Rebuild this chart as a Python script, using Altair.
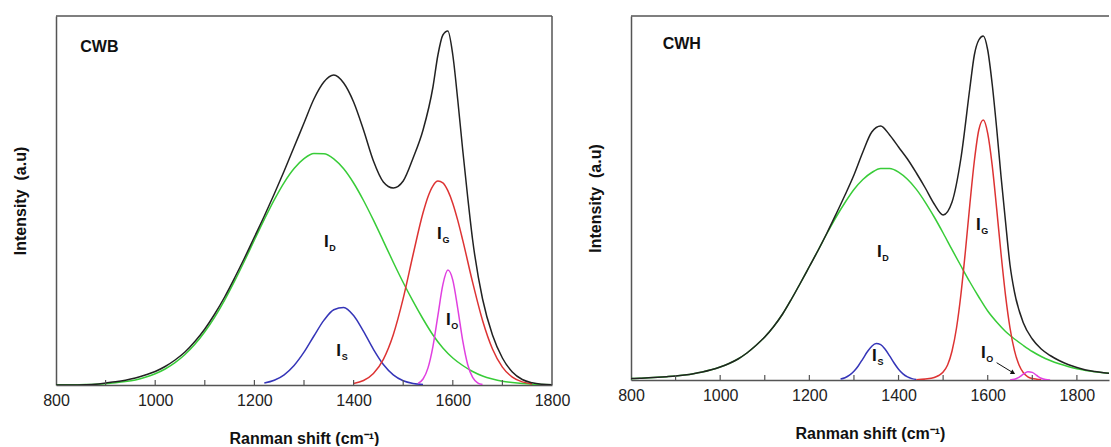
import altair as alt
import pandas as pd

FONT = "Liberation Sans"

# ---------------- CWB (left panel) ----------------
cwb_black_x = [800, 820, 840, 860, 880, 900, 920, 940, 960, 980, 1000, 1020, 1040, 1060, 1080,
               1100, 1120, 1140, 1160, 1180, 1200, 1220, 1240, 1260, 1280, 1300, 1320, 1340, 1360,
               1380, 1400, 1420, 1440, 1460, 1480, 1500, 1520, 1540, 1560, 1570, 1580, 1590, 1600,
               1610, 1620, 1630, 1640, 1660, 1680, 1700, 1720, 1740, 1760, 1780, 1800]
cwb_black_y = [0, 0, 0.1, 0.3, 0.8, 2.0, 3.2, 4.8, 7.0, 10.0, 13.5, 18.5, 25, 33, 43.5,
               56, 71, 88, 107, 127, 148, 169, 191, 214, 238, 262, 286, 303, 310,
               302, 283, 255, 224, 203, 197, 204, 227, 255, 298, 330, 350, 354, 330,
               285, 235, 188, 145, 86, 50, 27, 13, 5.5, 2.2, 0.8, 0.3]

cwb_green_x = [800, 820, 840, 860, 880, 900, 920, 940, 960, 980, 1000, 1020, 1040, 1060, 1080,
               1100, 1120, 1140, 1160, 1180, 1200, 1220, 1240, 1260, 1280, 1300, 1320, 1340, 1360,
               1380, 1400, 1420, 1440, 1460, 1480, 1500, 1520, 1540, 1560, 1580, 1600, 1620, 1640,
               1660, 1680, 1700, 1720, 1740, 1760, 1780, 1800]
cwb_green_y = [0.1, 0.2, 0.3, 0.5, 0.8, 1.3, 2.2, 3.4, 5.1, 7.7, 11.2, 16, 22.3, 30.5, 40.7,
               53.2, 67.9, 84.9, 103.8, 124, 145, 165.6, 185.1, 202.4, 216.4, 226.3, 231.4, 231.3, 226.2,
               216.2, 202, 184.5, 164.8, 143.9, 122.8, 102.5, 83.6, 66, 50, 37, 27, 19.5, 13.5,
               9, 6, 3.8, 2.4, 1.4, 0.8, 0.4, 0.2]

cwb_blue_x = [1220, 1240, 1260, 1280, 1300, 1320, 1340, 1360, 1380, 1400, 1420, 1440, 1460,
              1480, 1500, 1520, 1540]
cwb_blue_y = [1.9, 4.7, 10.2, 19.5, 32.8, 49, 64.6, 75.3, 77.6, 69.5, 53.6, 35.7, 20.5,
              10.2, 4.3, 1.6, 0.5]

cwb_red_x = [1400, 1420, 1440, 1460, 1480, 1500, 1520, 1540, 1550, 1560, 1570, 1580, 1590,
             1600, 1610, 1620, 1640, 1660, 1680, 1700, 1720, 1740, 1760]
cwb_red_y = [1.5, 4.5, 11.5, 25.7, 50.3, 86.6, 130.5, 172.2, 188.3, 199.2, 203.9, 202.2, 194.4,
             181.6, 164.6, 144.9, 102.6, 64.5, 36, 17.9, 7.9, 3.1, 1.0]

cwb_mag_x = [1530, 1540, 1550, 1560, 1570, 1580, 1590, 1600, 1610, 1620, 1630, 1640, 1650, 1660]
cwb_mag_y = [1.7, 6, 17.1, 38.7, 69.7, 100.3, 114.9, 104.9, 76.4, 44.3, 20.5, 7.6, 2.2, 0.5]

cwb_labels_x = [1345, 1573, 1591, 1370]
cwb_labels_y = [143, 151, 65, 34]
cwb_labels_sub = ["D", "G", "O", "S"]

# ---------------- CWH (right panel) ----------------
cwh_black_x = [800, 820, 840, 860, 880, 900, 920, 940, 960, 980, 1000, 1020, 1040, 1060, 1080,
               1100, 1120, 1140, 1160, 1180, 1200, 1220, 1240, 1260, 1280, 1300, 1320, 1340, 1360,
               1380, 1400, 1420, 1440, 1460, 1480, 1500, 1520, 1540, 1560, 1570, 1580, 1590, 1600,
               1610, 1620, 1630, 1640, 1650, 1660, 1680, 1700, 1720, 1740, 1760, 1780, 1800, 1820,
               1840, 1860, 1880]
cwh_black_y = [1.5, 1.8, 2.2, 2.7, 3.3, 4.0, 5.0, 6.3, 8.0, 10.2, 13, 16.5, 21, 27, 34.5,
               43, 53.5, 66, 81, 97, 113.5, 130, 147.5, 166, 185, 205, 228, 248, 254,
               245, 233, 221, 207, 192, 176, 165, 178, 222, 292, 325, 340, 344, 330,
               296, 252, 203, 158, 115, 88, 57, 41, 31, 24.5, 19.5, 15.5, 12.5, 10,
               8.5, 7.3, 6.3]

cwh_green_x = [800, 820, 840, 860, 880, 900, 920, 940, 960, 980, 1000, 1020, 1040, 1060, 1080,
               1100, 1120, 1140, 1160, 1180, 1200, 1220, 1240, 1260, 1280, 1300, 1320, 1340, 1360,
               1380, 1400, 1420, 1440, 1460, 1480, 1500, 1520, 1540, 1560, 1580, 1600, 1620, 1640,
               1660, 1680, 1700, 1720, 1740, 1760, 1780, 1800, 1820, 1840, 1860, 1880]
cwh_green_y = [1.5, 1.8, 2.2, 2.7, 3.3, 4.0, 5.0, 6.3, 8.0, 10.2, 13, 16.5, 21, 27, 34.5,
               43, 53.5, 66, 81, 97, 113.5, 130, 147, 163, 177.5, 190.5, 200.5, 207.5, 211.5,
               211.5, 207.9, 200.7, 190.6, 177.7, 163, 147, 130.3, 114, 98, 83, 69, 58, 48.5,
               41, 34.5, 28.5, 23.5, 19.5, 16.2, 13.5, 11.3, 9.6, 8.3, 7.2, 6.3]

cwh_blue_x = [1270, 1280, 1290, 1300, 1310, 1320, 1330, 1340, 1350, 1360, 1370, 1380, 1390,
              1400, 1410, 1420, 1430, 1440]
cwh_blue_y = [1.0, 2.3, 4.8, 8.7, 14.3, 21.2, 28.2, 33.8, 36.4, 35.3, 30.7, 24.1, 17,
              10.8, 6.1, 3.1, 1.4, 0.6]

cwh_red_x = [1440, 1460, 1480, 1490, 1500, 1510, 1520, 1530, 1540, 1550, 1560, 1570, 1580,
             1590, 1600, 1610, 1620, 1630, 1640, 1650, 1660, 1670, 1680, 1690, 1700, 1710, 1720]
cwh_red_y = [0.3, 1.0, 2.5, 4.5, 8, 15, 29, 52, 86, 129, 176, 219, 250,
             260, 246.7, 214.9, 171.6, 125.7, 84.4, 52, 29.4, 15.2, 7.2, 3.2, 1.5, 0.8, 0.4]

cwh_mag_x = [1650, 1660, 1670, 1680, 1690, 1700, 1710, 1720, 1730, 1740]
cwh_mag_y = [0.1, 0.8, 2.6, 5.8, 8.3, 7.6, 4.5, 1.7, 0.4, 0.1]

cwh_labels_x = [1357, 1579, 1590, 1346]
cwh_labels_y = [128, 155, 27, 24]
cwh_labels_sub = ["D", "G", "O", "S"]

cwh_arrow_x = [1620, 1657]
cwh_arrow_y = [17.3, 7.2]

x_label_values = [800, 1000, 1200, 1400, 1600, 1800]
cwb_minor_ticks = [900, 1000, 1100, 1200, 1300, 1400, 1500, 1600, 1700]
cwh_minor_ticks = [900, 1000, 1100, 1200, 1300, 1400, 1500, 1600, 1700, 1800]

COLORS = {"black": "#222222", "green": "#38cc38", "red": "#dd3333",
          "blue": "#3535b8", "magenta": "#e040e0"}
FRAME = "#555555"


def panel(name, name_xy, curves, labels, minor_ticks, W, H, xmax, ymax, right_border, arrow=None):
    xscale = alt.Scale(domain=[800, xmax], nice=False, zero=False)
    yscale = alt.Scale(domain=[0, ymax], nice=False)
    xaxis = alt.Axis(values=x_label_values, format="d", ticks=False, grid=False,
                     labelFont=FONT, labelFontSize=16, labelColor="#222222", labelPadding=7,
                     labelFlush=False, domainColor=FRAME, domainWidth=1.5,
                     title="Ranman shift (cm\u207b\u00b9)", titleFont=FONT, titleFontSize=16,
                     titleFontWeight="bold", titleColor="#111111", titlePadding=22)
    yaxis = alt.Axis(labels=False, ticks=False, grid=False, domainColor=FRAME, domainWidth=1.5,
                     title="Intensity\u00a0 (a.u)", titleFont=FONT, titleFontSize=16,
                     titleFontWeight="bold", titleColor="#111111", titlePadding=28)
    X = lambda f: alt.X(f, type="quantitative", scale=xscale, axis=xaxis)
    Y = lambda f: alt.Y(f, type="quantitative", scale=yscale, axis=yaxis)

    layers = []
    for key, xs, ys in curves:
        df = pd.DataFrame({"x": xs, "y": ys})
        layers.append(alt.Chart(df).mark_line(color=COLORS[key], strokeWidth=1.5,
                                              interpolate="monotone", clip=True)
                      .encode(x=X("x"), y=Y("y")))

    tdf = pd.DataFrame({"t": minor_ticks})
    layers.append(alt.Chart(tdf).mark_rule(color=FRAME, strokeWidth=1.2)
                  .encode(x=X("t"), y=alt.value(H), y2=alt.value(H - 5)))

    one = pd.DataFrame({"a": [0]})
    layers.append(alt.Chart(one).mark_rule(color=FRAME, strokeWidth=1.5)
                  .encode(x=alt.value(0), x2=alt.value(W), y=alt.value(0)))
    if right_border:
        layers.append(alt.Chart(one).mark_rule(color=FRAME, strokeWidth=1.5)
                      .encode(x=alt.value(W), y=alt.value(0), y2=alt.value(H)))

    ndf = pd.DataFrame({"x": [name_xy[0]], "y": [name_xy[1]], "t": [name]})
    layers.append(alt.Chart(ndf).mark_text(font=FONT, fontSize=16, fontWeight="bold",
                                           align="left", baseline="middle", color="#111111")
                  .encode(x=X("x"), y=Y("y"), text="t:N"))

    lx, ly, ls = labels
    ldf = pd.DataFrame({"x": lx, "y": ly, "main": ["I"] * len(lx), "sub": ls})
    layers.append(alt.Chart(ldf).mark_text(font=FONT, fontSize=17, fontWeight="bold",
                                           align="center", baseline="middle", color="#111111")
                  .encode(x=X("x"), y=Y("y"), text="main:N"))
    layers.append(alt.Chart(ldf).mark_text(font=FONT, fontSize=9, fontWeight="bold",
                                           align="left", baseline="middle", color="#111111",
                                           dx=3, dy=6)
                  .encode(x=X("x"), y=Y("y"), text="sub:N"))

    if arrow is not None:
        ax, ay = arrow
        adf = pd.DataFrame({"x": ax, "y": ay})
        layers.append(alt.Chart(adf).mark_line(color="#111111", strokeWidth=1)
                      .encode(x=X("x"), y=Y("y")))
        hdf = pd.DataFrame({"x": [ax[-1]], "y": [ay[-1]]})
        layers.append(alt.Chart(hdf).mark_point(shape="triangle-right", filled=True, size=28,
                                                angle=28, color="#111111", opacity=1)
                      .encode(x=X("x"), y=Y("y")))

    return alt.layer(*layers).properties(width=W, height=H)


left = panel("CWB", (849, 338),
             [("green", cwb_green_x, cwb_green_y), ("blue", cwb_blue_x, cwb_blue_y),
              ("red", cwb_red_x, cwb_red_y), ("magenta", cwb_mag_x, cwb_mag_y),
              ("black", cwb_black_x, cwb_black_y)],
             (cwb_labels_x, cwb_labels_y, cwb_labels_sub), cwb_minor_ticks,
             W=496, H=369, xmax=1800, ymax=369, right_border=True)

right = panel("CWH", (871, 336),
              [("green", cwh_green_x, cwh_green_y), ("blue", cwh_blue_x, cwh_blue_y),
               ("red", cwh_red_x, cwh_red_y), ("magenta", cwh_mag_x, cwh_mag_y),
               ("black", cwh_black_x, cwh_black_y)],
              (cwh_labels_x, cwh_labels_y, cwh_labels_sub), cwh_minor_ticks,
              W=478, H=364, xmax=1872, ymax=364, right_border=False,
              arrow=(cwh_arrow_x, cwh_arrow_y))

chart = (alt.hconcat(left, right, spacing=79, bounds="flush")
         .properties(padding={"left": 12, "top": 15, "right": 0, "bottom": 0},
                     background="white")
         .configure_view(strokeWidth=0))

chart.save("out.html", embed_options={"renderer": "svg", "actions": False})
